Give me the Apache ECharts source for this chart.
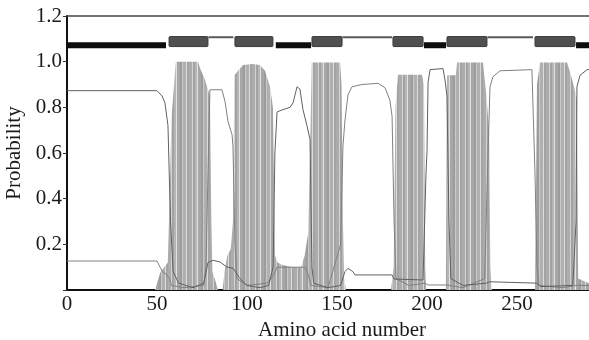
<!DOCTYPE html>
<html>
<head>
<meta charset="utf-8">
<style>
  html, body { margin: 0; padding: 0; background: #fff; }
  #chart { width: 589px; height: 340px; }
</style>
<script src="https://cdn.jsdelivr.net/npm/echarts@6/dist/echarts.min.js"></script>
</head>
<body>
<div id="chart"></div>
<script>
// x tick labels (amino acid number) and y tick labels (probability)
const xTicks = [0, 50, 100, 150, 200, 250];
const yTicks = [0.2, 0.4, 0.6, 0.8, 1.0, 1.2];

// predicted topology: [start, end, kind]
const topology = [
  [0, 55, 'in'],
  [56.7, 78.3, 'tm'],
  [78.6, 92.4, 'out'],
  [93.3, 114.4, 'tm'],
  [116, 135.6, 'in'],
  [136.1, 152.8, 'tm'],
  [153, 180.6, 'out'],
  [181.1, 197.8, 'tm'],
  [198.3, 210.6, 'in'],
  [211.1, 233.3, 'tm'],
  [233.6, 258.9, 'out'],
  [260, 282.2, 'tm'],
  [282.8, 290, 'in']
];

// transmembrane probability
const tmProb = [
  [0, 0], [49, 0], [50, 0.03], [52, 0.08], [54, 0.1], [56, 0.12], [57, 0.4], [58, 0.75],
  [59, 0.85], [60, 0.95], [60.5, 1.0], [72.8, 1.0], [74, 0.97], [76.7, 0.92], [79.4, 0.85],
  [80.2, 0.3], [80.8, 0.08], [82, 0.05], [84, 0], [86.5, 0], [87.5, 0.08], [89, 0.15],
  [91, 0.18], [92.2, 0.3], [93, 0.94], [95, 0.96], [97.8, 0.985], [102.8, 0.99],
  [107.2, 0.985], [110, 0.96], [112.8, 0.89], [114.4, 0.8], [115.6, 0.15], [117, 0.12],
  [120, 0.11], [125, 0.1], [130, 0.1], [132, 0.15], [134, 0.25], [135, 0.6], [136, 0.996],
  [151.7, 0.996], [152.5, 0.9], [153.3, 0.3], [154, 0.05], [155, 0], [180, 0],
  [181.5, 0.1], [182.5, 0.8], [183.9, 0.943], [197.2, 0.943], [198.3, 0.9], [199, 0.1],
  [199.5, 0], [210.5, 0], [211.1, 0.94], [216, 0.94], [216.7, 0.996], [231.1, 0.996],
  [233, 0.85], [234.5, 0.7], [235.2, 0.1], [236, 0], [260, 0], [261.1, 0.9],
  [262.8, 0.996], [277.8, 0.996], [280, 0.94], [283.3, 0.84], [284, 0.05], [290, 0.03]
];

// probability of the inside (cytoplasmic) side
const insideProb = [
  [0, 0.873], [50, 0.873], [52.8, 0.85], [54.4, 0.82], [55.6, 0.75], [56.1, 0.72],
  [57.5, 0.3], [59, 0.08], [62, 0.03], [70, 0.01], [76, 0.03], [78.3, 0.12], [81.1, 0.13],
  [85, 0.123], [88.9, 0.1], [92.2, 0.096], [96.1, 0.05], [100, 0.02], [107.2, 0.01],
  [112, 0.02], [114.5, 0.1], [115.5, 0.6], [116.7, 0.78], [120, 0.79], [123.9, 0.8],
  [125.6, 0.82], [127.8, 0.89], [129.4, 0.88], [131.1, 0.79], [133.3, 0.72], [135, 0.66],
  [136.1, 0.1], [137, 0.03], [145, 0.01], [152, 0.02], [154.4, 0.08], [156.1, 0.095],
  [158.9, 0.08], [160, 0.066], [180.6, 0.066], [181.7, 0.048], [197.8, 0.044],
  [199.4, 0.5], [200, 0.61], [200.6, 0.91], [201.7, 0.965], [208.9, 0.97], [210, 0.92],
  [211.1, 0.85], [212.2, 0.3], [213.3, 0.05], [220, 0.02], [233, 0.03], [235, 0.036],
  [261.1, 0.03], [263, 0.015], [281, 0.02], [282.8, 0.3], [283.3, 0.89], [285, 0.94],
  [288.9, 0.965], [290, 0.965]
];

// probability of the outside (extracellular) side
const outsideProb = [
  [0, 0.127], [50, 0.127], [51.7, 0.1], [53, 0.08], [55, 0.07], [57, 0.05], [58, 0.02],
  [65, 0.01], [76, 0.02], [77.2, 0.1], [78.3, 0.5], [79.4, 0.877], [86.1, 0.877],
  [87.8, 0.825], [89.4, 0.74], [91.7, 0.68], [92.2, 0.63], [93.3, 0.2], [94.4, 0.05],
  [100, 0.02], [111.1, 0.03], [114.4, 0.06], [116.7, 0.1], [132.2, 0.1], [133.9, 0.07],
  [135.6, 0.02], [145, 0.01], [152, 0.2], [153.3, 0.63], [154.4, 0.74], [156.1, 0.855],
  [158.3, 0.89], [163.9, 0.9], [172.8, 0.905], [176.7, 0.886], [177.8, 0.88],
  [179.4, 0.83], [180.6, 0.76], [181.7, 0.3], [182.8, 0.05], [190, 0.02], [198.9, 0.03],
  [200.6, 0.022], [211.1, 0.022], [220, 0.01], [232, 0.05], [233.9, 0.6], [235, 0.89],
  [236.7, 0.935], [240.6, 0.96], [258.3, 0.965], [258.9, 0.8], [260, 0.51], [261.1, 0.1],
  [262.2, 0.02], [275, 0.01], [283, 0.02], [290, 0.02]
];

const topoY = { in: 1.072, tm: 1.088, out: 1.107 };
const font = '"Liberation Serif", "Times New Roman", serif';

// striped gray fill, like the printed profile: [width, shade]
function stripePattern() {
  const bands = [
    [3, '#acacac'], [1, '#d4d4d4'], [2, '#a2a2a2'], [2, '#b6b6b6'], [1, '#e2e2e2'],
    [3, '#a7a7a7'], [2, '#9c9c9c'], [1, '#c9c9c9'], [3, '#b0b0b0'], [1, '#dcdcdc'],
    [2, '#a4a4a4']
  ];
  const w = bands.reduce((s, b) => s + b[0], 0);
  const c = document.createElement('canvas');
  c.width = w;
  c.height = 4;
  const ctx = c.getContext('2d');
  let x = 0;
  bands.forEach(([bw, s]) => {
    ctx.fillStyle = s;
    ctx.fillRect(x, 0, bw, 4);
    x += bw;
  });
  return { image: c, repeat: 'repeat' };
}

const chart = echarts.init(document.getElementById('chart'));
chart.setOption({
  animation: false,
  grid: { left: 67, right: 0, top: 16, bottom: 50, containLabel: false, outerBoundsMode: 'none' },
  xAxis: [{
    type: 'value',
    min: 0,
    max: 290,
    interval: 50,
    name: 'Amino acid number',
    nameLocation: 'middle',
    nameGap: 26,
    nameTextStyle: { fontFamily: font, fontSize: 21, color: '#1a1a1a', padding: [0, 0, 0, 28] },
    axisLine: { lineStyle: { color: '#111', width: 2 } },
    axisTick: { show: false },
    splitLine: { show: false },
    axisLabel: {
      margin: 4,
      fontFamily: font,
      fontSize: 21,
      color: '#1a1a1a',
      formatter: v => (xTicks.includes(v) ? String(v) : '')
    }
  }, {
    type: 'value',
    position: 'top',
    min: 0,
    max: 290,
    axisLine: { show: true, lineStyle: { color: '#444', width: 1.5 } },
    axisTick: { show: false },
    axisLabel: { show: false },
    splitLine: { show: false }
  }],
  yAxis: {
    type: 'value',
    min: 0,
    max: 1.2,
    interval: 0.2,
    name: 'Probability',
    nameLocation: 'middle',
    nameGap: 40,
    nameTextStyle: { fontFamily: font, fontSize: 21, color: '#1a1a1a' },
    axisLine: { show: true, lineStyle: { color: '#111', width: 2 } },
    axisTick: { show: true, length: 4, lineStyle: { color: '#333' } },
    splitLine: { show: false },
    axisLabel: {
      margin: 5,
      fontFamily: font,
      fontSize: 21,
      color: '#1a1a1a',
      formatter: v => {
        const hit = yTicks.find(t => Math.abs(t - v) < 1e-6);
        return hit === undefined ? '' : hit.toFixed(1);
      }
    }
  },
  series: [
    {
      name: 'TM',
      type: 'line',
      data: tmProb,
      showSymbol: false,
      lineStyle: { width: 0 },
      areaStyle: { color: stripePattern(), opacity: 1 },
      z: 1
    },
    {
      name: 'inside',
      type: 'line',
      data: insideProb,
      showSymbol: false,
      lineStyle: { width: 1, color: '#606060' },
      z: 3
    },
    {
      name: 'outside',
      type: 'line',
      data: outsideProb,
      showSymbol: false,
      lineStyle: { width: 1, color: '#808080' },
      z: 2
    },
    {
      name: 'topology',
      type: 'custom',
      data: topology.map(d => [d[0], d[1], d[2]]),
      encode: { x: [0, 1] },
      renderItem(params, api) {
        const kind = topology[params.dataIndex][2];
        const a = api.coord([api.value(0), topoY[kind]]);
        const b = api.coord([api.value(1), topoY[kind]]);
        const h = kind === 'tm' ? 10 : kind === 'in' ? 6 : 2;
        const fill = kind === 'tm' ? '#505050' : kind === 'in' ? '#0d0d0d' : '#5a5a5a';
        return {
          type: 'rect',
          shape: { x: a[0], y: a[1] - h / 2, width: b[0] - a[0], height: h, r: kind === 'tm' ? 1 : 0 },
          style: { fill: fill, stroke: kind === 'tm' ? '#3a3a3a' : null, lineWidth: 1 }
        };
      },
      z: 4
    }
  ]
});
</script>
</body>
</html>
